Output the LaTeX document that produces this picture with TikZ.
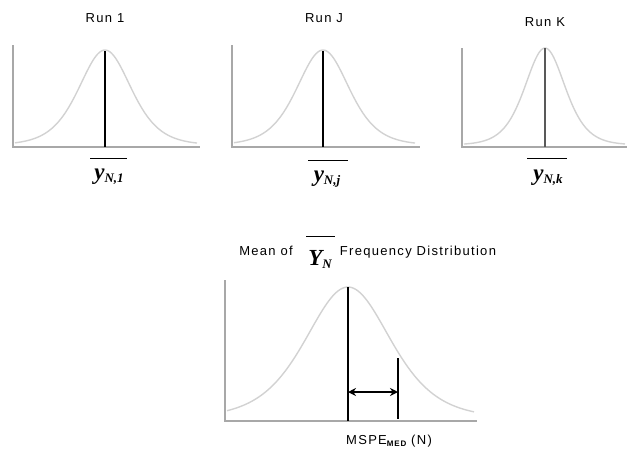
\documentclass[tikz,border=0pt]{standalone}
\usepackage{fontspec}
\setmainfont{Liberation Sans}
\newfontfamily\runfont[LetterSpace=10]{Liberation Sans}
\newfontfamily\symfont{Liberation Serif}
\usetikzlibrary{arrows.meta}
\definecolor{curvecol}{RGB}{210,210,210}
\definecolor{axiscol}{RGB}{168,168,168}

% bold italic symbol with lowered subscript
\newcommand{\symlbl}[3]{{\symfont\bfseries\itshape\fontsize{#3}{#3}\selectfont #1}%
  \raisebox{-3pt}{\symfont\bfseries\itshape\fontsize{13}{13}\selectfont #2}}

\begin{document}
\begin{tikzpicture}[
  x=1pt, y=-1pt,
  axis/.style={draw=axiscol, line width=1.4pt},
  bell/.style={draw=curvecol, line width=1.4pt},
  mean/.style={draw=black, line width=1.4pt},
  bar/.style={draw=black, line width=1pt},
  run/.style={font=\fontsize{13}{15}\runfont, inner sep=0pt},
  sym/.style={inner sep=0pt}
]
  \useasboundingbox (0,0) rectangle (628,453);

  % Run 1
  \node[run] (run1) at (105,18) {Run 1};
  \draw[axis] (13,45) -- (13,147) -- (200,147);
  \draw[bell] plot[domain=15:197, samples=120]
    (\x,{145-95/(cosh((\x-105)/35)^2)});
  \coordinate (peak1) at (105,51);
  \coordinate (base1) at (105,147);
  \draw[mean] (peak1) -- (base1);
  \draw[bar] (90,158) -- (127,158);
  \node[sym] (ybar1) at (109,177) {\symlbl{y}{N,1}{23}};

  % Run J
  \node[run] (runj) at (324,18) {Run J};
  \draw[axis] (232,45) -- (232,147) -- (420,147);
  \draw[bell] plot[domain=234:415, samples=120]
    (\x,{145-95/(cosh((\x-323)/35)^2)});
  \coordinate (peakj) at (323,51);
  \coordinate (basej) at (323,147);
  \draw[mean] (peakj) -- (basej);
  \draw[bar] (308,160) -- (348,160);
  \node[sym] (ybarj) at (327,179) {\symlbl{y}{N,j}{23}};

  % Run K
  \node[run] (runk) at (545,22) {Run K};
  \draw[axis] (462,48) -- (462,147) -- (627,147);
  \draw[bell] plot[domain=464:625, samples=120]
    (\x,{145-97/(cosh((\x-545)/27)^2)});
  \coordinate (peakk) at (545,48);
  \coordinate (basek) at (545,147);
  \draw[mean, draw=black!65] (peakk) -- (basek);
  \draw[bar] (527,158) -- (567,158);
  \node[sym] (ybark) at (548,178) {\symlbl{y}{N,k}{23}};

  % mean of the runs
  \node[run] (meanof) at (266,251) {Mean of};
  \node[sym] (ybig) at (320,259) {\symlbl{Y}{N}{23}};
  \draw[bar] (306,236) -- (335,236);
  \node[run] (freq) at (418,252) {Frequency Distribution};

  \draw[axis] (225,280) -- (225,421) -- (477,421);
  \draw[bell] plot[domain=227:474, samples=150]
    (\x,{418-131/(cosh((\x-348)/57)^2)});
  \coordinate (peakm) at (348,287);
  \coordinate (basem) at (348,421);
  \coordinate (errtop) at (398,358);
  \coordinate (errbot) at (398,419);
  \draw[mean] (peakm) -- (basem);
  \draw[mean] (errtop) -- (errbot);
  \coordinate (arrl) at (348,392);
  \coordinate (arrr) at (398,392);
  \draw[mean, {Stealth[length=8pt,width=8pt]}-{Stealth[length=8pt,width=8pt]}]
    (arrl) -- (arrr);

  \node[run] (mspe) at (389,441)
    {MSPE\raisebox{-2pt}{\fontsize{8}{8}\selectfont\bfseries MED} (N)};
\end{tikzpicture}
\end{document}
